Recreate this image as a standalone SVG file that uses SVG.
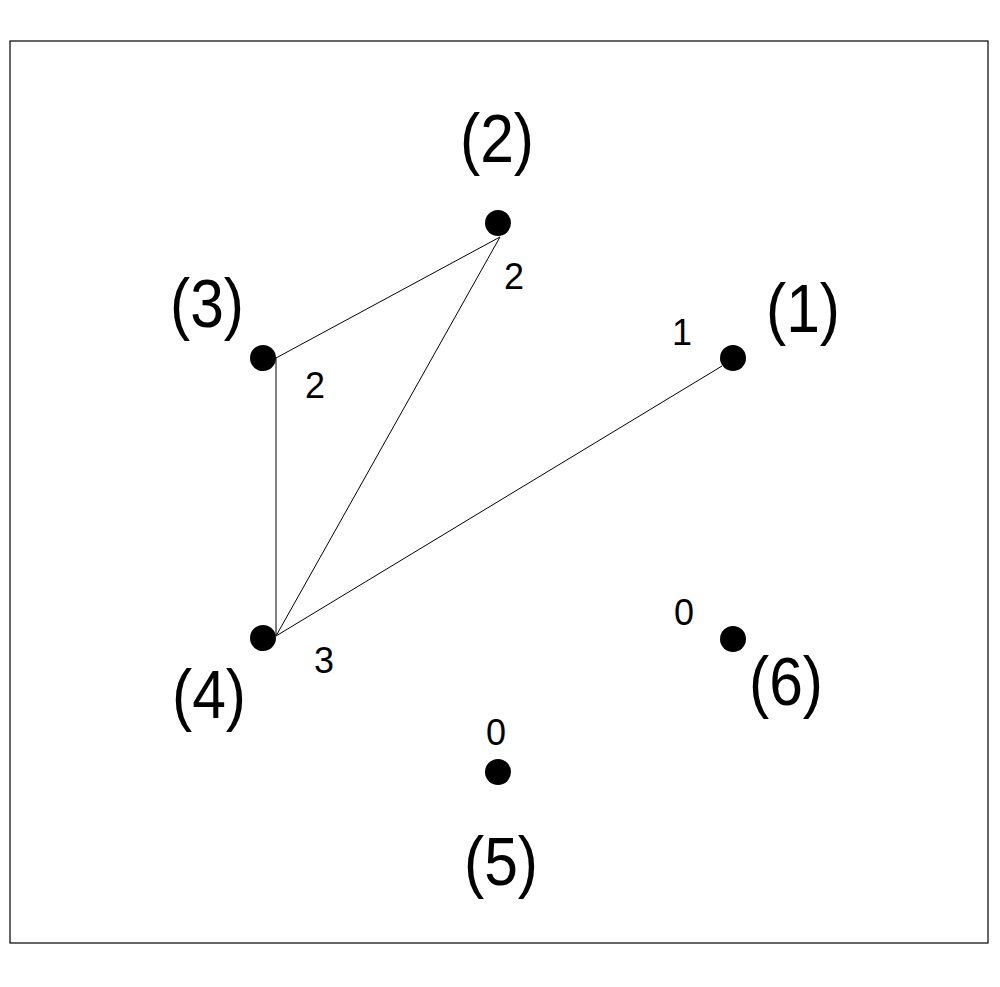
<svg xmlns="http://www.w3.org/2000/svg" width="1000" height="987" viewBox="0 0 1000 987">
<style>
.big{font-family:"Liberation Sans",Arial,sans-serif;font-size:68px;fill:#000;text-anchor:middle}
.small{font-family:"Liberation Sans",Arial,sans-serif;font-size:36px;fill:#000;text-anchor:middle}
.dot{fill:#000}
.edge{stroke:#000;stroke-width:1;fill:none}
</style>
<rect x="0" y="0" width="1000" height="987" fill="#fff"/>
<rect x="10" y="41" width="978" height="902" fill="none" stroke="#000" stroke-width="1.2"/>
<g id="connectors">
<line class="edge" x1="500" y1="237" x2="276" y2="358"/>
<line class="edge" x1="500" y1="237" x2="276" y2="636"/>
<line class="edge" x1="276" y1="358" x2="276" y2="636"/>
<line class="edge" x1="276" y1="636" x2="722" y2="366"/>
</g>
<g id="node1">
<circle class="dot" cx="733" cy="358" r="13"/>
<text class="big" x="803" y="332" textLength="74" lengthAdjust="spacingAndGlyphs">(1)</text>
<text class="small" x="682" y="345">1</text>
</g>
<g id="node2">
<circle class="dot" cx="498" cy="223" r="13"/>
<text class="big" x="497" y="162" textLength="74" lengthAdjust="spacingAndGlyphs">(2)</text>
<text class="small" x="514" y="289">2</text>
</g>
<g id="node3">
<circle class="dot" cx="263" cy="358" r="13"/>
<text class="big" x="207" y="327" textLength="74" lengthAdjust="spacingAndGlyphs">(3)</text>
<text class="small" x="315" y="398">2</text>
</g>
<g id="node4">
<circle class="dot" cx="263" cy="638" r="13"/>
<text class="big" x="209" y="718" textLength="74" lengthAdjust="spacingAndGlyphs">(4)</text>
<text class="small" x="324" y="673">3</text>
</g>
<g id="node5">
<circle class="dot" cx="498" cy="772" r="13"/>
<text class="big" x="501" y="885" textLength="74" lengthAdjust="spacingAndGlyphs">(5)</text>
<text class="small" x="496" y="745">0</text>
</g>
<g id="node6">
<circle class="dot" cx="733" cy="639" r="13"/>
<text class="big" x="786" y="705" textLength="74" lengthAdjust="spacingAndGlyphs">(6)</text>
<text class="small" x="684" y="625">0</text>
</g>
</svg>
